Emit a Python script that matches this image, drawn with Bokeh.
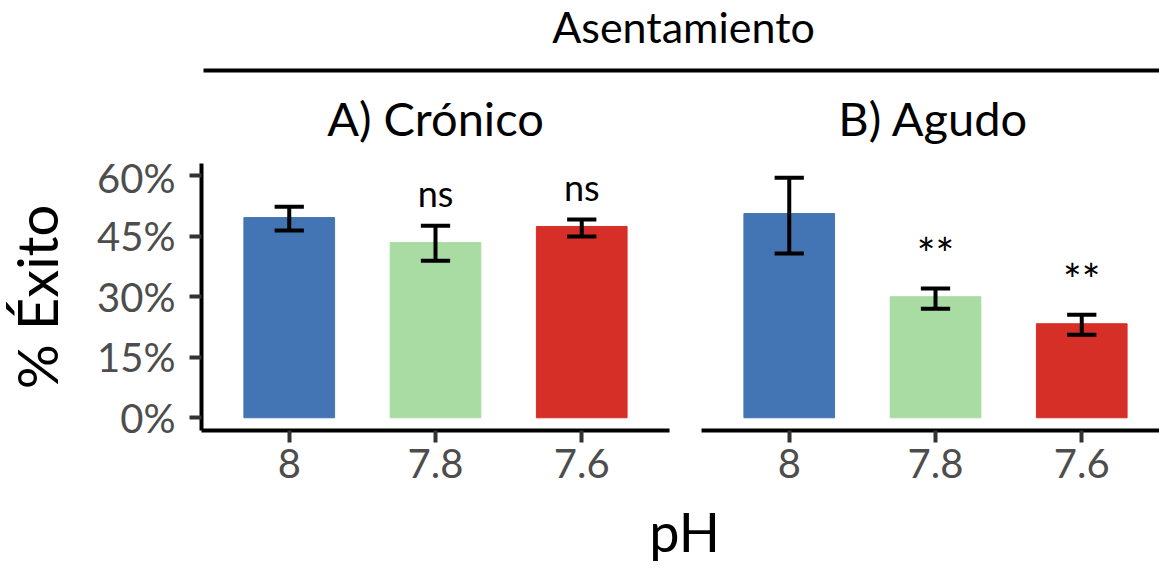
from bokeh.plotting import figure
from bokeh.models import Range1d, FixedTicker, PrintfTickFormatter
from bokeh.layouts import column, row
from bokeh.embed import file_html
from bokeh.resources import INLINE
from bokeh.core.properties import value

# ---------------- data ----------------
ph_labels = ["8", "7.8", "7.6"]
bar_colors = ["#4374B3", "#A9DCA3", "#D62F28"]

cronico_mean = [49.6, 43.4, 47.4]
cronico_lower = [46.4, 38.9, 44.9]
cronico_upper = [52.3, 47.6, 49.1]
cronico_sig = ["", "ns", "ns"]

agudo_mean = [50.6, 30.0, 23.3]
agudo_lower = [40.7, 27.0, 20.6]
agudo_upper = [59.5, 32.0, 25.5]
agudo_sig = ["", "**", "**"]

y_ticks = [0, 15, 30, 45, 60]

main_title = "Asentamiento"
panel_titles = ["A) Crónico", "B) Agudo"]
x_title = "pH"
y_title = "% Éxito"

FONT = "Lato"
TICK_COLOR = "#4D4D4D"

UNIT_PX = 146.25           # pixels per category step
Y_RANGE = (-3.15, 63.0)
FRAME_H = 267
BOTTOM = 68
PX_PER_PCT = FRAME_H / (Y_RANGE[1] - Y_RANGE[0])
BASE_SHIFT = 0.4           # empirical baseline correction (fraction of font size)


def make_panel(mean, lower, upper, sig, frame_w, border_l, border_r, show_y):
    pos = list(range(1, len(mean) + 1))
    x_end = 0.4 + frame_w / UNIT_PX
    p = figure(
        width=border_l + frame_w + border_r,
        height=10 + FRAME_H + BOTTOM,
        x_range=Range1d(0.4, x_end),
        y_range=Range1d(*Y_RANGE),
        output_backend="svg",
        toolbar_location=None,
        min_border_left=border_l,
        min_border_right=border_r,
        min_border_top=10,
        min_border_bottom=BOTTOM,
        y_axis_location="left" if show_y else None,
        outline_line_color=None,
    )
    p.grid.visible = False

    p.vbar(x=pos, top=mean, bottom=0, width=0.62, fill_color=bar_colors,
           line_color=bar_colors, line_width=1)
    # error bars
    p.segment(x0=pos, y0=lower, x1=pos, y1=upper, line_width=4, line_color="black")
    p.segment(x0=[x - 0.1 for x in pos], y0=upper, x1=[x + 0.1 for x in pos], y1=upper,
              line_width=4, line_color="black")
    p.segment(x0=[x - 0.1 for x in pos], y0=lower, x1=[x + 0.1 for x in pos], y1=lower,
              line_width=4, line_color="black")
    # significance labels
    sizes = [44 if s.startswith("*") else 36 for s in sig]
    ys = [u + 4.5 + BASE_SHIFT * sz / PX_PER_PCT for u, sz in zip(upper, sizes)]
    p.text(x=pos, y=ys, text=sig, text_font=value(FONT),
           text_font_size=[f"{sz}px" for sz in sizes], text_align="center",
           text_baseline="alphabetic", text_color="black")

    xa = p.xaxis[0]
    xa.ticker = FixedTicker(ticks=pos)
    xa.major_label_overrides = {x: lab for x, lab in zip(pos, ph_labels)}
    xa.axis_line_width = 4
    xa.axis_line_color = "black"
    xa.major_tick_line_width = 4
    xa.major_tick_line_color = "#333333"
    xa.major_tick_out = 12
    xa.major_tick_in = 0
    xa.minor_tick_line_color = None
    xa.major_label_text_font = FONT
    xa.major_label_text_font_size = "40px"
    xa.major_label_text_color = TICK_COLOR
    xa.major_label_standoff = 6

    if show_y:
        ya = p.yaxis[0]
        ya.ticker = FixedTicker(ticks=y_ticks)
        ya.formatter = PrintfTickFormatter(format="%d%%")
        ya.axis_line_width = 4
        ya.axis_line_color = "black"
        ya.major_tick_line_width = 4
        ya.major_tick_line_color = "#333333"
        ya.major_tick_out = 12
        ya.major_tick_in = 0
        ya.minor_tick_line_color = None
        ya.major_label_text_font = FONT
        ya.major_label_text_font_size = "40px"
        ya.major_label_text_color = TICK_COLOR
        ya.major_label_standoff = 14
        ya.axis_label = y_title
        ya.axis_label_text_font = FONT
        ya.axis_label_text_font_size = "56px"
        ya.axis_label_text_font_style = "normal"
        ya.axis_label_text_color = "black"
        ya.axis_label_standoff = 24
    return p


left = make_panel(cronico_mean, cronico_lower, cronico_upper, cronico_sig,
                  frame_w=468, border_l=201, border_r=16, show_y=True)
right = make_panel(agudo_mean, agudo_lower, agudo_upper, agudo_sig,
                   frame_w=458, border_l=16, border_r=0, show_y=False)


def blank(width, height):
    p = figure(width=width, height=height, x_range=Range1d(0, width),
               y_range=Range1d(height, 0), x_axis_location=None, y_axis_location=None,
               min_border=0, outline_line_color=None, toolbar_location=None,
               output_backend="svg")
    p.grid.visible = False
    return p


def put_text(p, xs, baselines, texts, size):
    p.text(x=xs, y=[b - BASE_SHIFT * size for b in baselines], text=texts,
           text_font=value(FONT), text_font_size=f"{size}px", text_align="center",
           text_baseline="alphabetic", text_color="black")


header = blank(1159, 153)
put_text(header, [683], [43], [main_title], 43)
header.segment(x0=[203], y0=[70], x1=[1159], y1=[70], line_width=4, line_color="black")
put_text(header, [435, 933], [136, 136], panel_titles, 47)

footer_h = 572 - 153 - (10 + FRAME_H + BOTTOM)
footer = blank(1159, footer_h)
put_text(footer, [684], [553 - (572 - footer_h)], [x_title], 54)

layout = column(header, row(left, right), footer)
open("out.html", "w").write(file_html(layout, INLINE))
